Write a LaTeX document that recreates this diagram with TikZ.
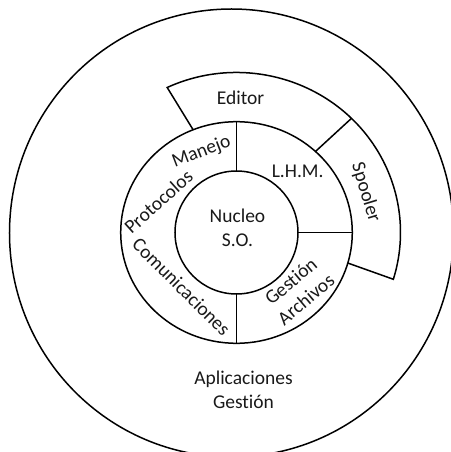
\documentclass[tikz,border=0pt]{standalone}
\usepackage{fontspec}
\setmainfont{Carlito}[Ligatures=NoCommon]
\usetikzlibrary{shapes.geometric}
\begin{document}
\begin{tikzpicture}[x=1pt,y=1pt,
  line/.style={line width=1.5pt, black},
  oval/.style={ellipse, draw, line width=1.5pt, inner sep=0pt, outer sep=0pt},
  disc/.style={circle, draw, line width=1.5pt, inner sep=0pt, outer sep=0pt},
  txt/.style={font=\fontsize{19.5}{23.5}\selectfont, text=black!90, inner sep=0pt, align=center},
  lbl/.style={txt, text height=13pt, text depth=4pt}
]
\useasboundingbox (-236.5,-219.5) rectangle (213.5,232.5);

% outer layer: applications
\node[oval, minimum width=444pt, minimum height=448pt] (apps) at (-5,-0.5) {};

% Editor / Spooler band around the ring
\draw[line] (112:115.8 and 110.8) -- (115:164 and 160)
  arc[start angle=115, end angle=-17, x radius=164, y radius=160]
  -- (-16:115.8 and 110.8);
\draw[line] (47:115.8 and 110.8) -- (45.5:164 and 160);

% ring of system services and the kernel
\node[oval, minimum width=231.6pt, minimum height=221.6pt] (ring) at (0,0) {};
\node[disc, minimum size=123pt] (core) at (0,0) {};
\draw[line] (core.north) -- (ring.north);
\draw[line] (core.south) -- (ring.south);
\draw[line] (core.east) -- (ring.east);

% labels
\node[lbl] (editor) at (4,132) {Editor};
\node[lbl, rotate=-73] (spooler) at (128.5,39.8) {Spooler};
\node[lbl] (lhm) at (61.2,59.2) {L.H.M.};
\node[lbl, rotate=21] (manejo) at (-34.8,79.8) {Manejo};
\node[lbl, rotate=42] (proto) at (-76.5,29.2) {Protocolos};
\node[lbl, rotate=-45] (comun) at (-56.5,-55.8) {Comunicaciones};
\node[txt, rotate=40] (gestarch) at (61.8,-57.8) {Gestión\\Archivos};
\node[txt] (nucleo) at (1,4.5) {Nucleo\\S.O.};
\node[txt] (aplic) at (7,-157.5) {Aplicaciones\\Gestión};
\end{tikzpicture}
\end{document}
